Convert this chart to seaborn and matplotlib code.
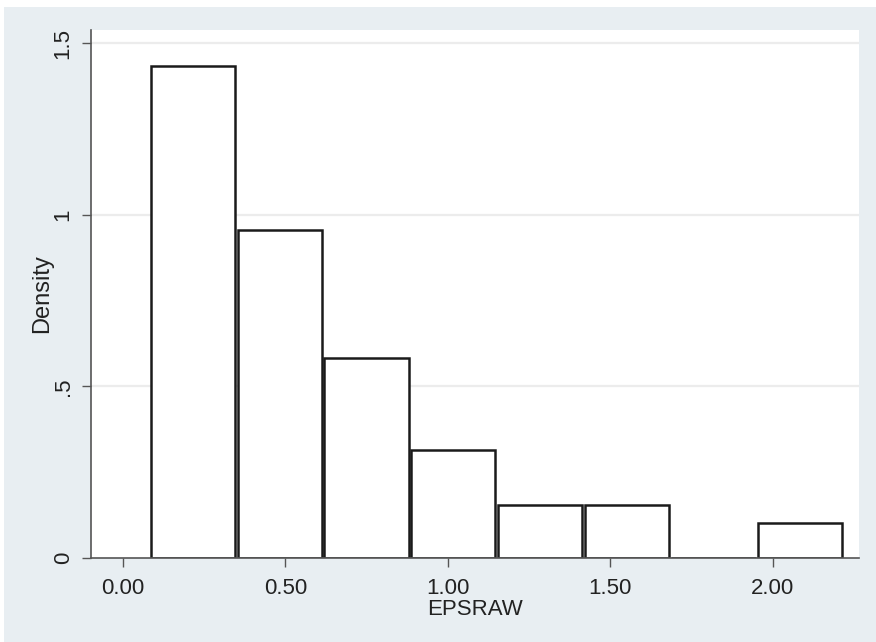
import numpy as np
import pandas as pd
import seaborn as sns
import matplotlib.pyplot as plt
from matplotlib.patches import Rectangle

# histogram bins (start 0.082, width 0.267)
bin_edges = [0.082, 0.349, 0.616, 0.883, 1.150, 1.417, 1.684, 1.951, 2.218]
densities = [1.435, 0.956, 0.583, 0.316, 0.155, 0.155, 0.0, 0.101]

x_ticks = [0.0, 0.5, 1.0, 1.5, 2.0]
x_tick_labels = ["0.00", "0.50", "1.00", "1.50", "2.00"]
y_ticks = [0, 0.5, 1, 1.5]
y_tick_labels = ["0", ".5", "1", "1.5"]

centers = [(a + b) / 2 for a, b in zip(bin_edges[:-1], bin_edges[1:])]
df = pd.DataFrame({"EPSRAW": centers, "density": densities})

sns.set_style("white")
plt.rcParams["font.family"] = ["Liberation Sans", "DejaVu Sans"]

bg = "#e8eef2"
fig = plt.figure(figsize=(8.76, 6.42), dpi=100, facecolor=bg)
# thin white strips at top and left, like the reference
fig.patches.append(Rectangle((0, 0), 4 / 876, 1, transform=fig.transFigure,
                             facecolor="white", edgecolor="none", zorder=-5))
fig.patches.append(Rectangle((0, 1 - 7 / 642), 1, 7 / 642, transform=fig.transFigure,
                             facecolor="white", edgecolor="none", zorder=-5))

ax = fig.add_axes([91 / 876, 1 - 558 / 642, (859 - 91) / 876, (558 - 30) / 642])
ax.set_facecolor("white")

for y in y_ticks[1:]:
    ax.axhline(y, color="#ececec", lw=1.6, zorder=0)

sns.histplot(data=df, x="EPSRAW", weights="density", bins=bin_edges, stat="count",
             shrink=0.97, fill=True, color="white", edgecolor="#1a1a1a",
             linewidth=1.8, alpha=1, ax=ax, zorder=2)

ax.set_xlim(-0.098, 2.265)
ax.set_ylim(0, 1.539)
ax.set_xticks(x_ticks)
ax.set_xticklabels(x_tick_labels)
ax.set_yticks(y_ticks)
ax.set_yticklabels(y_tick_labels, rotation=90, va="center")

ax.tick_params(axis="both", direction="out", length=6.5, width=1, color="#555555",
               labelsize=16, labelcolor="#222222", left=True, bottom=True)
ax.tick_params(axis="x", pad=8)
ax.tick_params(axis="y", pad=6)

for s in ["top", "right"]:
    ax.spines[s].set_visible(False)
for s in ["left", "bottom"]:
    ax.spines[s].set_color("#555555")
    ax.spines[s].set_linewidth(1.2)

ax.set_xlabel("EPSRAW", fontsize=16, color="#222222", labelpad=0)
ax.set_ylabel("Density", fontsize=17, color="#222222", labelpad=0)

fig.savefig("out.png", dpi=100, facecolor=fig.get_facecolor())
